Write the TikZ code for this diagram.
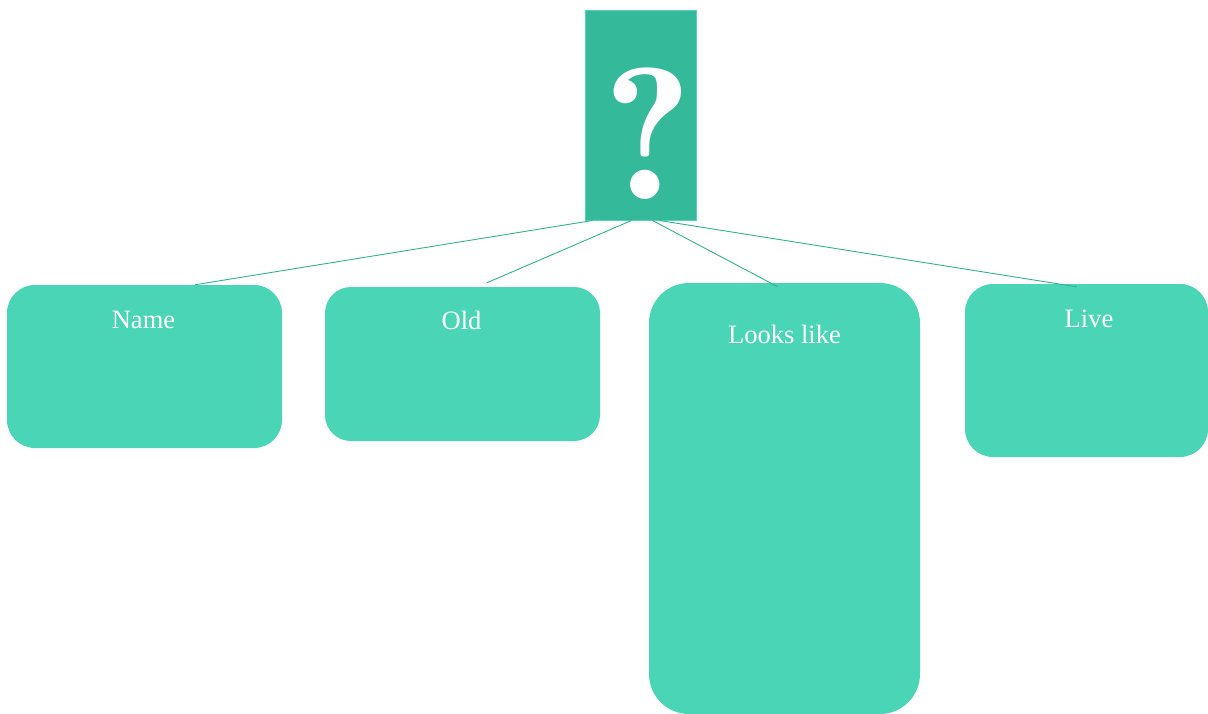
\documentclass[tikz,border=0pt]{standalone}
\usepackage{fontspec}
\setmainfont{Liberation Serif}
\newfontfamily\qmfont{lmromandemi10-regular.otf}
\begin{document}
\begin{tikzpicture}[x=1pt,y=-1pt,
  qbox/.style={rectangle,fill=qfill,draw=qborder,line width=1pt,minimum width=111pt,minimum height=210pt,inner sep=0pt},
  qmark/.style={text=white,inner sep=0pt,font=\qmfont\fontsize{188}{188}\selectfont},
  card/.style={rectangle,fill=cardfill,draw=none,inner sep=0pt},
  cardtext/.style={text=white,font=\fontsize{26.5}{30}\selectfont,anchor=center,inner sep=0pt},
  link/.style={draw=linkcol,line width=0.9pt}]
\definecolor{qfill}{RGB}{52,186,154}
\definecolor{qborder}{RGB}{80,214,184}
\definecolor{cardfill}{RGB}{74,214,182}
\definecolor{linkcol}{RGB}{47,180,144}
\useasboundingbox (0,0) rectangle (1208,713);
\node[qbox] (q) at (640.5,115) {};
\node[qmark] (qm) at (648,134) {?};
\node[card,minimum width=275pt,minimum height=163pt,rounded corners=28pt] (name) at (144.5,366.5) {};
\node[card,minimum width=275pt,minimum height=154pt,rounded corners=26pt] (old) at (462.5,364) {};
\node[card,minimum width=271pt,minimum height=431pt,rounded corners=40pt] (looks) at (784.5,498.5) {};
\node[card,minimum width=243pt,minimum height=173pt,rounded corners=28pt] (live) at (1086.5,370.5) {};
\node[cardtext] (tname) at ([xshift=-1pt,yshift=-35pt]name.north) {Name};
\node[cardtext] (told) at ([xshift=-1pt,yshift=-34pt]old.north) {Old};
\node[cardtext] (tlooks) at ([yshift=-52pt]looks.north) {Looks like};
\node[cardtext] (tlive) at ([xshift=2.5pt,yshift=-35pt]live.north) {Live};
\draw[link] ([xshift=8pt]q.south west) -- ([xshift=188pt]name.north west);
\draw[link] ([xshift=47pt]q.south west) -- ([xshift=162pt,yshift=4pt]old.north west);
\draw[link] ([xshift=68pt]q.south west) -- ([xshift=129pt,yshift=-4pt]looks.north west);
\draw[link] ([xshift=75pt]q.south west) -- ([xshift=112pt,yshift=-3pt]live.north west);
\end{tikzpicture}
\end{document}
